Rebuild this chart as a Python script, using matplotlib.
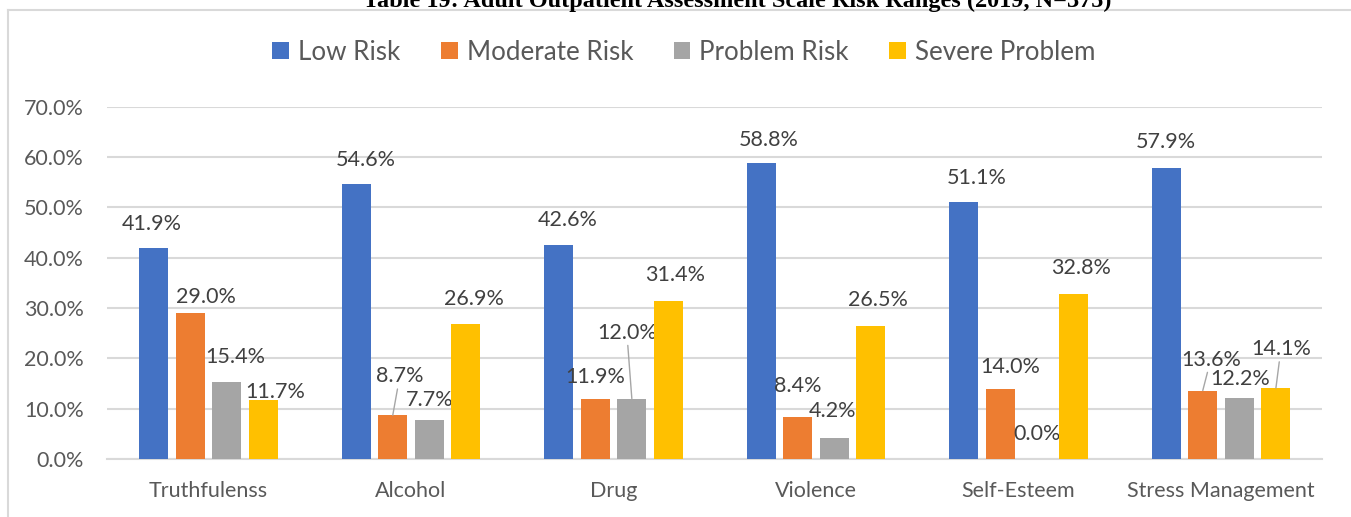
import matplotlib
matplotlib.use("Agg")
import matplotlib.pyplot as plt
from matplotlib.patches import Patch
from matplotlib.lines import Line2D
import numpy as np

# Data
categories = ["Truthfulenss", "Alcohol", "Drug", "Violence", "Self-Esteem", "Stress Management"]
series_names = ["Low Risk", "Moderate Risk", "Problem Risk", "Severe Problem"]
low_risk = [41.9, 54.6, 42.6, 58.8, 51.1, 57.9]
moderate_risk = [29.0, 8.7, 11.9, 8.4, 14.0, 13.6]
problem_risk = [15.4, 7.7, 12.0, 4.2, 0.0, 12.2]
severe_problem = [11.7, 26.9, 31.4, 26.5, 32.8, 14.1]
y_ticks = [0, 10, 20, 30, 40, 50, 60, 70]

colors = ["#4472C4", "#ED7D31", "#A5A5A5", "#FFC000"]

# label offsets in pixels (dx, dy of text centre from bar top), and leader lines
label_offsets = [
    [(-2, 24), (10, 24), (9, 25), (8, 23), (13, 24), (0, 26)],
    [(16, 16), (7, 39), (0, 22), (0, 31), (10, 22), (8, 31)],
    [(8, 25), (0, 20), (-5, 66), (-2, 27), (0, 25), (1, 19)],
    [(12, 8), (8, 25), (7, 26), (7, 26), (8, 26), (5, 39)],
]
leaders = [(1, 1), (2, 2), (1, 5), (3, 5)]  # (series, category)

plt.rcParams['font.family'] = ['Lato', 'DejaVu Sans']

fig = plt.figure(figsize=(13.51, 5.17), dpi=100)
ax = fig.add_axes([107.3 / 1351, 58 / 517, 1215 / 1351, 352.2 / 517])

x = np.arange(len(categories))
step = 0.1806
width = 0.143
all_series = [low_risk, moderate_risk, problem_risk, severe_problem]

for i, (vals, name, c) in enumerate(zip(all_series, series_names, colors)):
    xs = x + (i - 1.5) * step
    ax.bar(xs, vals, width=width, color=c, label=name, zorder=3)
    for j, v in enumerate(vals):
        dx, dy = label_offsets[i][j]
        arrow = None
        if (i, j) in leaders:
            arrow = dict(arrowstyle="-", color="#A6A6A6", lw=1, shrinkA=0, shrinkB=0)
        ax.annotate(f"{v:.1f}%", xy=(xs[j], v), xytext=(dx, dy),
                    textcoords="offset pixels", ha="center", va="center",
                    fontsize=15.5, color="#404040", arrowprops=arrow)

ax.set_xlim(-0.5, len(categories) - 0.5)
ax.set_ylim(0, 70)
ax.set_yticks(y_ticks)
ax.set_yticklabels([f"{t:.1f}%" for t in y_ticks])
ax.set_xticks(x)
ax.set_xticklabels(categories)
ax.tick_params(axis="y", length=0, pad=17, labelsize=15.5, labelcolor="#595959")
ax.tick_params(axis="x", length=0, pad=16, labelsize=15.5, labelcolor="#595959")
for s in ["top", "right", "left"]:
    ax.spines[s].set_visible(False)
ax.spines["bottom"].set_color("#D9D9D9")
ax.spines["bottom"].set_linewidth(1.5)
ax.yaxis.grid(True, color="#D9D9D9", linewidth=1.5, zorder=0)
ax.set_axisbelow(True)

handles = [Patch(facecolor=c, edgecolor="none") for c in colors]
leg = fig.legend(handles, series_names, loc="center", bbox_to_anchor=(684 / 1351, 1 - 52 / 517),
                 ncol=4, frameon=False, fontsize=18.7, handlelength=0.65, handleheight=0.65,
                 handletextpad=0.35, columnspacing=1.55, labelcolor="#595959")

# outer chart frame
fig.add_artist(Line2D([8 / 1351, 1.0], [1 - 10 / 517, 1 - 10 / 517], color="#D9D9D9", lw=1.5))
fig.add_artist(Line2D([8 / 1351, 8 / 1351], [0.0, 1 - 10 / 517], color="#D9D9D9", lw=1.5))

# cut-off title above the chart
fig.text(737 / 1351, 1 - 7.5 / 517, "Table 19: Adult Outpatient Assessment Scale Risk Ranges (2019, N=375)",
         ha="center", va="baseline", fontsize=17.5, fontweight="bold",
         family=["Liberation Serif", "DejaVu Serif"], color="black")

fig.savefig("out.png", dpi=100)
